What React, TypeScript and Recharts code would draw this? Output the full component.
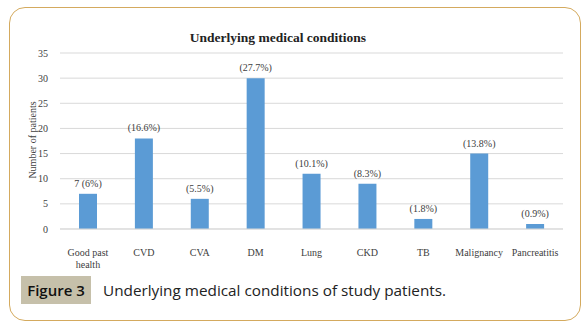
import React from 'react';
import { BarChart, Bar, XAxis, YAxis, CartesianGrid, LabelList } from 'recharts';

const categories = ['Good past health', 'CVD', 'CVA', 'DM', 'Lung', 'CKD', 'TB', 'Malignancy', 'Pancreatitis'];
const patients = [7, 18, 6, 30, 11, 9, 2, 15, 1];
const percentLabels = ['7 (6%)', '(16.6%)', '(5.5%)', '(27.7%)', '(10.1%)', '(8.3%)', '(1.8%)', '(13.8%)', '(0.9%)'];
const yTicks = [0, 5, 10, 15, 20, 25, 30, 35];

const data = categories.map((name, i) => ({ name, value: patients[i], label: percentLabels[i] }));

const serif = '"Liberation Serif", "Times New Roman", serif';
const sans = '"Open Sans", "Noto Sans", sans-serif';

const CategoryTick = (props: any) => {
  const { x, y, payload } = props;
  const lines = payload.value === 'Good past health' ? ['Good past', 'health'] : [payload.value];
  return (
    <text x={x} y={y} textAnchor="middle" fontFamily={serif} fontSize={10} fill="#404040">
      {lines.map((l, i) => (
        <tspan key={i} x={x} dy={i === 0 ? 19 : 12}>{l}</tspan>
      ))}
    </text>
  );
};

const BarLabel = (props: any) => {
  const { x, y, width, value } = props;
  return (
    <text x={x + width / 2} y={y - 7} textAnchor="middle" fontFamily={serif} fontSize={10} fill="#404040">
      {value}
    </text>
  );
};

export default function App() {
  return (
    <div style={{ position: 'absolute', left: 0, top: 0, width: 586, height: 328, background: '#fff' }}>
      <div
        style={{
          position: 'absolute', left: 9, top: 7, width: 572, height: 314,
          border: '1.5px solid #d4aa5e', borderRadius: 16, boxSizing: 'border-box',
        }}
      />
      <div
        style={{
          position: 'absolute', left: 0, top: 30, width: 556, textAlign: 'center',
          fontFamily: serif, fontWeight: 'bold', fontSize: 13.5, color: '#222',
        }}
      >
        Underlying medical conditions
      </div>
      <div
        style={{
          position: 'absolute', left: 32, top: 140, transform: 'translate(-50%, -50%) rotate(-90deg)',
          fontFamily: serif, fontSize: 10, color: '#404040', whiteSpace: 'nowrap',
        }}
      >
        Number of patients
      </div>
      <div style={{ position: 'absolute', left: 0, top: 0 }}>
        <BarChart width={586} height={270} data={data} margin={{ top: 53, right: 23, bottom: 11, left: 10 }} barSize={18}>
          <CartesianGrid vertical={false} stroke="#d9d9d9" />
          <XAxis
            dataKey="name"
            interval={0}
            height={30}
            tickLine={false}
            axisLine={{ stroke: '#d9d9d9' }}
            tick={<CategoryTick />}
          />
          <YAxis
            domain={[0, 35]}
            ticks={yTicks}
            width={50}
            tickLine={false}
            axisLine={false}
            tickSize={0}
            tickMargin={12}
            tick={{ fontFamily: serif, fontSize: 10, fill: '#404040' }}
          />
          <Bar dataKey="value" fill="#5b9bd5" isAnimationActive={false}>
            <LabelList dataKey="label" content={<BarLabel />} />
          </Bar>
        </BarChart>
      </div>
      <div
        style={{
          position: 'absolute', left: 21, top: 276, height: 28, width: 70, textAlign: 'center', lineHeight: '28px',
          background: '#c6c0aa', fontFamily: sans, fontWeight: 600,
          fontSize: 15, color: '#111',
        }}
      >
        Figure 3
      </div>
      <div
        style={{
          position: 'absolute', left: 103, top: 276, lineHeight: '28px',
          fontFamily: sans, fontSize: 15.3, color: '#222',
        }}
      >
        Underlying medical conditions of study patients.
      </div>
    </div>
  );
}
